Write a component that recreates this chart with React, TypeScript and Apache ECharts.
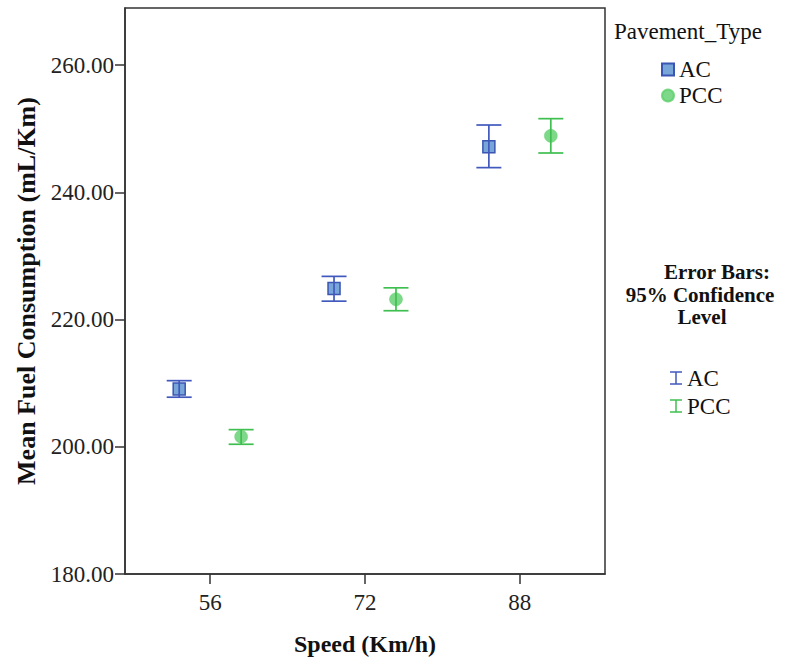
import React, { useEffect, useRef } from "react";
import * as echarts from "echarts";

const speeds = [56, 72, 88];
const acMean = [209.1, 224.9, 247.2];
const acLow = [207.8, 222.9, 243.9];
const acHigh = [210.4, 226.8, 250.6];
const pccMean = [201.6, 223.2, 248.9];
const pccLow = [200.4, 221.4, 246.2];
const pccHigh = [202.7, 225.0, 251.6];
const yTicks = [180, 200, 220, 240, 260];
const xTicks = [56, 72, 88];

const DODGE = 3.2;
const FONT = "Liberation Serif";
const AC_LINE = "#4159bd";
const AC_FILL = "#78a6d8";
const AC_BORDER = "#3a55b2";
const PCC_LINE = "#3fbf50";
const PCC_FILL = "#5ccf6b";

function errRender(color: string) {
  return (params: any, api: any) => {
    const x = api.value(0);
    const lo = api.value(1);
    const hi = api.value(2);
    const p1 = api.coord([x, lo]);
    const p2 = api.coord([x, hi]);
    const hw = 12.5;
    const style = { stroke: color, lineWidth: 1.7, fill: null };
    return {
      type: "group",
      children: [
        { type: "line", shape: { x1: p1[0], y1: p1[1], x2: p2[0], y2: p2[1] }, style },
        { type: "line", shape: { x1: p1[0] - hw, y1: p1[1], x2: p1[0] + hw, y2: p1[1] }, style },
        { type: "line", shape: { x1: p2[0] - hw, y1: p2[1], x2: p2[0] + hw, y2: p2[1] }, style },
      ],
    };
  };
}

function iconGroup(x: number, y: number, color: string) {
  const s = { stroke: color, lineWidth: 1.5 };
  return {
    type: "group",
    x,
    y,
    children: [
      { type: "line", shape: { x1: 0, y1: -6, x2: 0, y2: 6 }, style: s },
      { type: "line", shape: { x1: -6, y1: -6, x2: 6, y2: -6 }, style: s },
      { type: "line", shape: { x1: -6, y1: 6, x2: 6, y2: 6 }, style: s },
    ],
  };
}

export default function App() {
  const ref = useRef<HTMLDivElement>(null);
  useEffect(() => {
    if (!ref.current) return;
    const chart = echarts.init(ref.current, null, { renderer: "svg" });
    const acPts = speeds.map((s, i) => [s - DODGE, acMean[i]]);
    const pccPts = speeds.map((s, i) => [s + DODGE, pccMean[i]]);
    const acErr = speeds.map((s, i) => [s - DODGE, acLow[i], acHigh[i]]);
    const pccErr = speeds.map((s, i) => [s + DODGE, pccLow[i], pccHigh[i]]);
    const lineStyle = { color: "#333", width: 1.5 };
    const boldFont = `bold 21px "${FONT}"`;
    chart.setOption({
      animation: false,
      textStyle: { fontFamily: FONT },
      grid: {
        left: 125,
        top: 8,
        right: 181,
        bottom: 84,
        show: true,
        borderColor: "#333",
        borderWidth: 1.5,
        backgroundColor: "transparent",
      },
      xAxis: {
        type: "value",
        min: 47.2,
        max: 96.8,
        name: "Speed (Km/h)",
        nameLocation: "middle",
        nameGap: 58,
        nameTextStyle: { fontFamily: FONT, fontSize: 24, fontWeight: "bold", color: "#111" },
        axisLine: { show: true, lineStyle },
        axisTick: { show: true, length: 10, lineStyle, customValues: xTicks },
        axisLabel: {
          customValues: xTicks,
          fontFamily: FONT,
          fontSize: 23,
          color: "#222",
          margin: 17,
        },
        splitLine: { show: false },
      },
      yAxis: {
        type: "value",
        min: 180,
        max: 269,
        name: "Mean Fuel Consumption (mL/Km)",
        nameLocation: "middle",
        nameGap: 86,
        nameRotate: 90,
        nameTextStyle: { fontFamily: FONT, fontSize: 26, fontWeight: "bold", color: "#111" },
        axisLine: { show: true, lineStyle },
        axisTick: { show: true, length: 10, lineStyle, customValues: yTicks },
        axisLabel: {
          customValues: yTicks,
          fontFamily: FONT,
          fontSize: 23,
          color: "#222",
          margin: 11,
          formatter: (v: number) => v.toFixed(2),
        },
        splitLine: { show: false },
      },
      legend: {
        orient: "vertical",
        left: 661,
        top: 58,
        padding: 0,
        itemWidth: 12,
        itemHeight: 12,
        itemGap: 3,
        data: ["AC", "PCC"],
        textStyle: { fontFamily: FONT, fontSize: 23, color: "#111" },
      },
      graphic: [
        {
          type: "text",
          left: 614,
          top: 20,
          style: { text: "Pavement_Type", font: `23px "${FONT}"`, fill: "#111" },
        },
        {
          type: "text",
          x: 717,
          y: 272,
          style: { text: "Error Bars:", font: boldFont, fill: "#111", align: "center", verticalAlign: "middle" },
        },
        {
          type: "text",
          x: 700,
          y: 294.5,
          style: { text: "95% Confidence", font: boldFont, fill: "#111", align: "center", verticalAlign: "middle" },
        },
        {
          type: "text",
          x: 702,
          y: 317,
          style: { text: "Level", font: boldFont, fill: "#111", align: "center", verticalAlign: "middle" },
        },
        iconGroup(676, 378, AC_LINE),
        {
          type: "text",
          x: 687,
          y: 378,
          style: { text: "AC", font: `23px "${FONT}"`, fill: "#111", verticalAlign: "middle" },
        },
        iconGroup(676, 406, PCC_LINE),
        {
          type: "text",
          x: 687,
          y: 406,
          style: { text: "PCC", font: `23px "${FONT}"`, fill: "#111", verticalAlign: "middle" },
        },
      ],
      series: [
        {
          name: "AC",
          type: "scatter",
          symbol: "rect",
          symbolSize: 12,
          data: acPts,
          itemStyle: { color: AC_FILL, borderColor: AC_BORDER, borderWidth: 1.5, opacity: 1 },
          z: 2,
        },
        {
          name: "PCC",
          type: "scatter",
          symbol: "circle",
          symbolSize: 13,
          data: pccPts,
          itemStyle: { color: PCC_FILL, borderColor: PCC_FILL, borderWidth: 0.5 },
          z: 2,
        },
        {
          name: "AC error",
          type: "custom",
          renderItem: errRender(AC_LINE),
          data: acErr,
          encode: { x: 0, y: [1, 2] },
          z: 3,
        },
        {
          name: "PCC error",
          type: "custom",
          renderItem: errRender(PCC_LINE),
          data: pccErr,
          encode: { x: 0, y: [1, 2] },
          z: 3,
        },
      ],
    });
    return () => chart.dispose();
  }, []);
  return (
    <div
      ref={ref}
      style={{ position: "fixed", left: 0, top: 0, width: 786, height: 661, background: "#fff" }}
    />
  );
}
